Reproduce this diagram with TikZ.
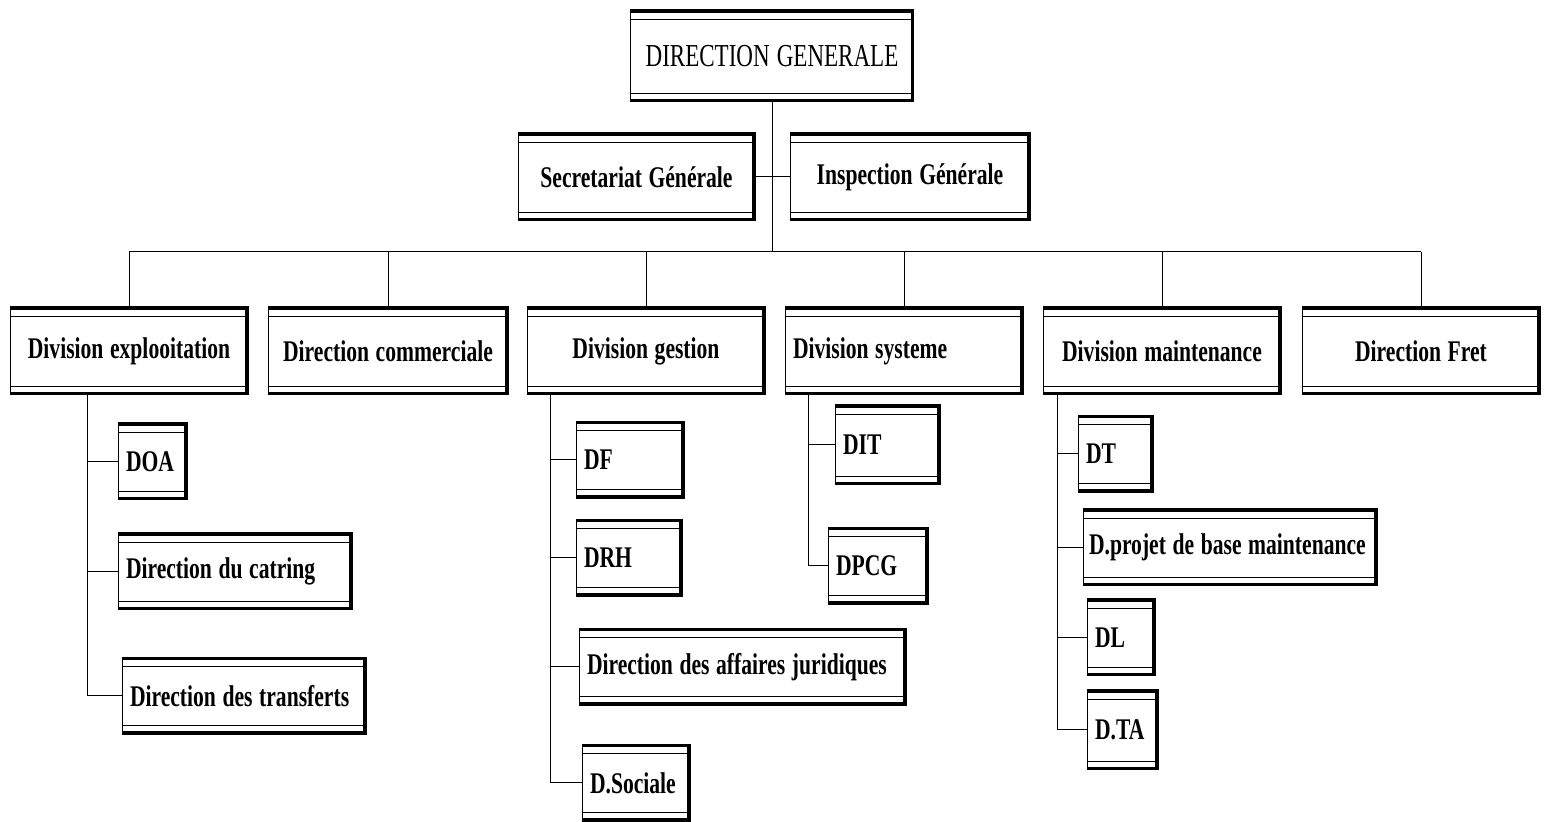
\documentclass[tikz,border=0pt]{standalone}
\usepackage{fontspec}
\setmainfont{Liberation Serif}[FakeStretch=0.72]
\usepackage{tikz}
\newcommand\orgfont{\bfseries\fontsize{15}{18}\selectfont}
\newcommand\topfont{\fontsize{16}{19}\selectfont}

\begin{document}
\begin{tikzpicture}[x=0.5pt,y=-0.5pt,line width=0.5pt,
  box/.style={draw, line width=0.5pt, inner xsep=4pt, inner ysep=0pt, font=\orgfont,
    execute at begin node={\spaceskip=0.22em\relax},
    path picture={
      \draw[line width=3pt] (path picture bounding box.north west) -- (path picture bounding box.north east)
        -- (path picture bounding box.south east) -- (path picture bounding box.south west);
      \draw[line width=0.4pt] ([yshift=-4.5pt]path picture bounding box.north west) -- ([yshift=-4.5pt]path picture bounding box.north east);
      \draw[line width=0.4pt] ([yshift=4.5pt]path picture bounding box.south west) -- ([yshift=4.5pt]path picture bounding box.south east);
    }},
  mainbox/.style={box, align=center, minimum height=44pt},
  subbox/.style={box, align=left, minimum height=38.5pt}]
\useasboundingbox (0,0) rectangle (1549,822);

\node[mainbox, text width=133.5pt, minimum height=46pt, font=\topfont] (dg) at (772,56) {DIRECTION GENERALE};
\node[mainbox, text width=110.5pt] (sec) at (636.5,177) {Secretariat Générale};
\node[mainbox, text width=112pt] (insp) at (910,177) {Inspection Générale};

% divisions
\node[mainbox, text width=111pt] (dexp) at (129,351) {Division explooitation};
\node[mainbox, text width=112pt] (dcom) at (388,351) {Direction commerciale};
\node[mainbox, text width=111pt] (dges) at (646,351) {Division gestion};
\node[mainbox, text width=111pt, align=left] (dsys) at (904,351) {Division systeme};
\node[mainbox, text width=111pt] (dmai) at (1162,351) {Division maintenance};
\node[mainbox, text width=111pt] (dfret) at (1421,351) {Direction Fret};

% directions
\node[subbox, text width=26.5pt] (doa) at (152.5,461.5) {DOA};
\node[subbox, text width=109pt] (catr) at (235,571.5) {Direction du catring};
\node[subbox, text width=114pt] (trans) at (244,696) {Direction des transferts};

\node[subbox, text width=46pt] (df) at (630,460) {DF};
\node[subbox, text width=45pt] (drh) at (629,558) {DRH};
\node[subbox, text width=155.5pt] (daj) at (742.5,667) {Direction des affaires juridiques};
\node[subbox, text width=46pt] (dsoc) at (636,783) {D.Sociale};

\node[subbox, text width=44.5pt, minimum height=40pt] (dit) at (887.5,445) {DIT};
\node[subbox, text width=42pt] (dpcg) at (878,566) {DPCG};

\node[subbox, text width=29.5pt] (dt) at (1115.5,454) {DT};
\node[subbox, text width=141pt, inner xsep=3pt] (dpb) at (1230,547.5) {D.projet de base maintenance};
\node[subbox, text width=26pt] (dl) at (1121,637.5) {DL};
\node[subbox, text width=27.5pt, minimum height=40pt] (dta) at (1122.5,730) {D.TA};

% connectors
\coordinate (bus) at (772,252);
\draw (dg.south) -- (bus);
\draw (sec.east) -- (insp.west);
\draw (bus -| dexp.north) -- (bus -| dfret.north);
\foreach \n in {dexp,dcom,dges,dsys,dmai,dfret}
  \draw (bus -| \n.north) -- (\n.north);

\coordinate (e0) at (87,0);
\coordinate (g0) at (550,0);
\coordinate (s0) at (808,0);
\coordinate (m0) at (1057,0);

\draw (dexp.south -| e0) -- (trans.west -| e0);
\foreach \n in {doa,catr,trans}
  \draw (\n.west -| e0) -- (\n.west);

\draw (dges.south -| g0) -- (dsoc.west -| g0);
\foreach \n in {df,drh,daj,dsoc}
  \draw (\n.west -| g0) -- (\n.west);

\draw (dsys.south -| s0) -- (dpcg.west -| s0);
\foreach \n in {dit,dpcg}
  \draw (\n.west -| s0) -- (\n.west);

\draw (dmai.south -| m0) -- (dta.west -| m0);
\foreach \n in {dt,dpb,dl,dta}
  \draw (\n.west -| m0) -- (\n.west);
\end{tikzpicture}
\end{document}
